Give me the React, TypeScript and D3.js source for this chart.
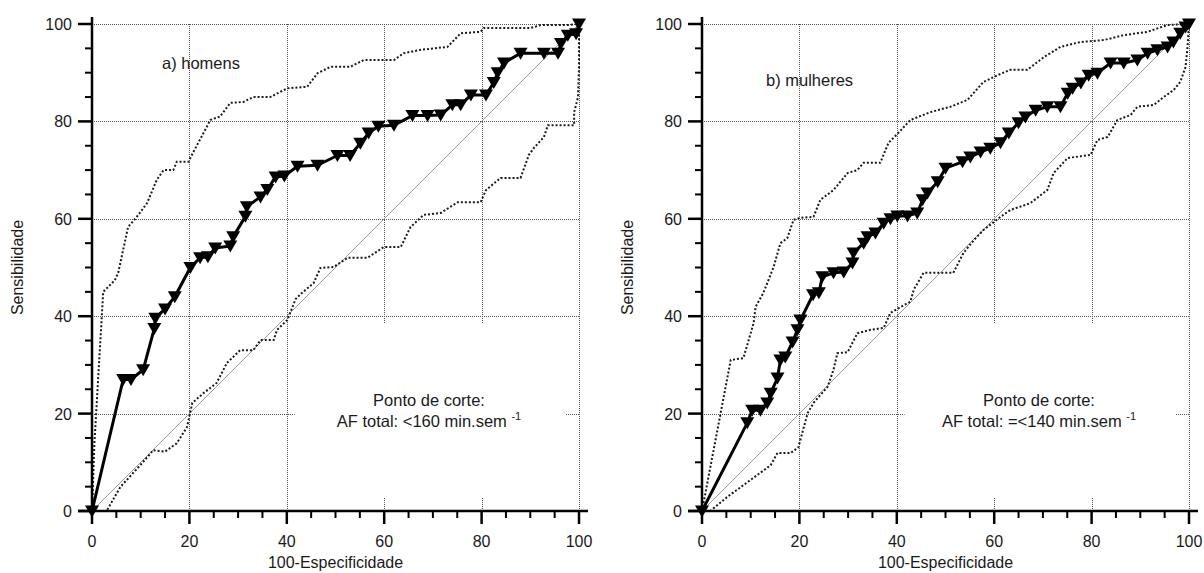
import React from 'react';
import * as d3 from 'd3';

type Pt = [number, number];

// a) homens
const menRoc: Pt[] = [[0,0],[6.4,27],[8,27],[10.5,29],[12.8,37.5],[13,39.6],[15,41.5],[17,44],[20.2,50],[22.2,52],[23.8,52.2],[25.3,54],[28.4,54.4],[29,56.3],[31.5,60.5],[31.8,62.5],[34.6,64.5],[36,66],[37.7,68.6],[39.5,68.8],[42.2,70.8],[46.3,71],[50.4,73],[53,73],[55.1,75.5],[56.8,77.6],[58.8,79],[62,79.2],[65.8,81.2],[68.9,81.2],[71.6,81.3],[74,83.4],[75.7,83.4],[77.8,85.4],[80.9,85.4],[82.5,88],[83.3,90],[84.6,92],[88,94],[92.8,94],[95.7,94],[96.3,96],[97.7,97.7],[99.4,98],[100,100]];
const menUpper: Pt[] = [[0,0],[0.5,14],[2.3,45],[4.7,47.4],[5.4,49],[7.4,58.3],[9.2,60.4],[11.3,63.2],[13.3,68],[14.7,70],[16.7,70],[17.4,71.7],[19.8,71.7],[20.8,73.7],[22.9,77.6],[24.3,80.3],[26.3,81],[28.4,83.8],[31.1,84],[33.1,85],[36.6,85],[40.1,86.8],[42.8,87],[44.2,87.1],[46.3,89.9],[49,91.2],[53,91.2],[55.8,92.6],[62,92.6],[64,94],[67.5,94.7],[73,95.3],[75.7,98.1],[79.8,98.4],[80.5,99.2],[90.1,99.2],[92.2,99.8],[97.7,99.8],[100,100]];
const menLower: Pt[] = [[0,0],[3,0],[5.8,4.9],[9.9,9.4],[12.6,12.5],[15,12.2],[17.4,13.9],[19.5,17.2],[20.6,22.2],[22.9,24.2],[25.6,26.3],[27.7,30.4],[30.4,33],[33.1,33],[34.6,35.1],[37.3,35.1],[38,37.2],[40.1,39.2],[41.8,43.5],[42.8,44.5],[45.5,46.8],[46.9,49.9],[49.6,50.1],[52.5,52],[56.6,52],[59.9,54.2],[63.4,54.2],[65.4,58.3],[68.1,60.8],[71.6,61.2],[75.1,63.4],[79.8,63.4],[80.9,65.9],[83.9,68.4],[88,68.4],[89.7,73.1],[90.7,74.5],[92.8,76.8],[93.6,79.2],[99,79.2],[99,81.9],[99.8,85],[100,91.2],[100,100]];

// b) mulheres
const womenRoc: Pt[] = [[0,0],[9.3,18.1],[10.3,20.7],[12,20.7],[13.4,22.2],[14.1,24.2],[15.5,27.3],[16.1,31],[17.1,31.6],[18.6,34.7],[19.6,37.2],[20.2,39.2],[22.8,44.4],[24,44.8],[24.7,48.1],[27,48.9],[29.1,49.1],[30.9,50.9],[31.1,53],[33.2,55],[34,56.3],[35.6,57.1],[37.3,59.1],[38.7,60],[40.1,60.6],[42.2,60.6],[44.2,61.2],[45.3,63.9],[46.3,65.3],[48.4,67.6],[50,70.4],[53.5,71.7],[55.1,72.7],[57.2,73.7],[59.2,74.5],[61.3,75.6],[63,77.6],[65,79.7],[66.4,80.9],[68.5,82.3],[70.9,83],[73.6,83],[75.1,85.8],[76.1,86.8],[77.8,87.9],[79.4,89.5],[81.2,89.9],[83.9,92],[86.6,92],[89.4,92.6],[91.5,94],[93.5,94.7],[95.6,95.3],[96.8,96.3],[98.2,98.1],[99.3,99.4],[100,100]];
const womenUpper: Pt[] = [[0,0],[5.9,31],[8.5,31.4],[10.6,38.6],[11,41.9],[12.6,44.8],[13.4,46.8],[14.7,50.1],[16.1,55],[17.5,56],[18.8,59.8],[20.2,60.2],[22.9,60.4],[24.3,63.9],[27,65.9],[29.9,69.4],[31.9,70],[33.2,71.5],[36.6,71.5],[38.3,75.6],[40.1,77.4],[42.8,80.3],[46.9,81.9],[51,83],[54.5,84.4],[57.8,88.1],[60.7,89.5],[63.3,90.6],[66.8,90.6],[70.2,93.2],[73.6,95.3],[77.7,96.3],[82.5,96.7],[86.6,97.7],[91.5,98.4],[95.6,99.8],[100,100]];
const womenLower: Pt[] = [[0,0],[1.7,0],[5.2,2.9],[10,6.4],[14.1,9.4],[15.5,11.9],[18.2,11.9],[19.8,13.1],[20.9,17.2],[21.7,20.1],[22.9,22.2],[25.8,25.5],[27,29],[27.8,32.4],[29.9,32.6],[31.9,36.5],[34.6,37.2],[37.3,37.6],[38.7,40.7],[40.8,41.9],[42.8,43],[43.5,45.5],[45.5,48.9],[51.6,48.9],[53.7,53],[55.8,55.6],[57.8,57.7],[61.3,60.4],[63.3,61.8],[67.4,63.2],[70.9,65.9],[72.2,69.4],[75.1,72.5],[79.8,73.1],[81.2,76.2],[83.3,76.8],[85.3,80.3],[88,81.3],[89.4,83],[92.8,83.4],[94.8,85],[96.8,86.4],[98.2,88.1],[99.3,91.2],[99.7,95.3],[100,100]];

const majorTicks = [0, 20, 40, 60, 80, 100];
const minorTicks = d3.range(0, 101, 5).filter(v => v % 20 !== 0);
const gridTicks = [20, 40, 60, 80, 100];

const font = '"Liberation Sans", Arial, sans-serif';
const ink = '#1a1a1a';
const tri = 'M-7,-5.5L7,-5.5L0,6.5Z';

const Panel = ({ left, label, cut, roc, upper, lower, labelX, labelY }:
  { left: number, label: string, cut: string, roc: Pt[], upper: Pt[], lower: Pt[], labelX: number, labelY: number }) => {
  const x = d3.scaleLinear().domain([0, 100]).range([left, left + 487]);
  const y = d3.scaleLinear().domain([0, 100]).range([511, 24]);
  const line = d3.line<Pt>().x(d => x(d[0])).y(d => y(d[1]));
  const px = (v: number) => Math.round(v) + 0.5;
  const midX = x(69.2);
  return (
    <g>
      {gridTicks.map(t => (
        <g key={t} stroke="#555" strokeWidth={1} strokeDasharray="1,1" shapeRendering="crispEdges">
          <line x1={px(x(t))} x2={px(x(t))} y1={y(0)} y2={y(100)} />
          <line x1={x(0)} x2={x(100)} y1={px(y(t))} y2={px(y(t))} />
        </g>
      ))}
      <rect x={x(41.6)} y={y(38.6)} width={x(97.2) - x(41.6)} height={y(2.7) - y(38.6)} fill="#fff" />
      <line x1={x(0)} y1={y(0)} x2={x(100)} y2={y(100)} stroke="#9a9a9a" strokeWidth={1} />
      <path d={line(upper)!} fill="none" stroke={ink} strokeWidth={2} strokeDasharray="2,2" />
      <path d={line(lower)!} fill="none" stroke={ink} strokeWidth={2} strokeDasharray="2,2" />
      <path d={line(roc)!} fill="none" stroke="#000" strokeWidth={3} strokeLinejoin="round" />
      {roc.map((d, i) => (
        <path key={i} d={tri} transform={`translate(${x(d[0])},${y(d[1])})`} fill="#000" />
      ))}
      {/* axes */}
      <line x1={x(0) - 14} x2={x(100) + 9} y1={y(0)} y2={y(0)} stroke="#000" strokeWidth={2.5} />
      <line x1={x(0)} x2={x(0)} y1={y(0)} y2={17} stroke="#000" strokeWidth={2.5} />
      {majorTicks.map(t => (
        <g key={t}>
          <line x1={x(t)} x2={x(t)} y1={y(0)} y2={y(0) + 13} stroke="#000" strokeWidth={2.5} />
          <line x1={x(0) - 14} x2={x(0)} y1={y(t)} y2={y(t)} stroke="#000" strokeWidth={2.5} />
          <text x={x(t)} y={547} textAnchor="middle" fontSize={16} fill={ink} fontFamily={font}>{t}</text>
          <text x={x(0) - 20} y={y(t) + 6} textAnchor="end" fontSize={16} fill={ink} fontFamily={font}>{t}</text>
        </g>
      ))}
      {minorTicks.map(t => (
        <g key={t} stroke="#000" strokeWidth={2}>
          <line x1={x(t)} x2={x(t)} y1={y(0)} y2={y(0) + 7} />
          <line x1={x(0) - 7} x2={x(0)} y1={y(t)} y2={y(t)} />
        </g>
      ))}
      <text x={x(50)} y={568} textAnchor="middle" fontSize={16} fill={ink} fontFamily={font}>100-Especificidade</text>
      <text transform={`translate(${x(0) - 69},${y(50)}) rotate(-90)`} textAnchor="middle" fontSize={16} fill={ink} fontFamily={font}>Sensibilidade</text>
      <text x={labelX} y={labelY} fontSize={16.5} fill={ink} fontFamily={font}>{label}</text>
      <text x={midX} y={406} textAnchor="middle" fontSize={16.5} fill={ink} fontFamily={font}>Ponto de corte:</text>
      <text x={midX} y={427} textAnchor="middle" fontSize={16.5} fill={ink} fontFamily={font}>
        {cut}<tspan fontSize={11} dy={-7}>-1</tspan>
      </text>
    </g>
  );
};

export default function App() {
  return (
    <svg width={1204} height={573} style={{ position: 'absolute', left: 0, top: 0, background: '#fff' }}>
      <Panel left={92} label="a) homens" cut="AF total: <160 min.sem " roc={menRoc} upper={menUpper} lower={menLower} labelX={162} labelY={69} />
      <Panel left={702} label="b) mulheres" cut="AF total: =<140 min.sem " roc={womenRoc} upper={womenUpper} lower={womenLower} labelX={766} labelY={86} />
    </svg>
  );
}
